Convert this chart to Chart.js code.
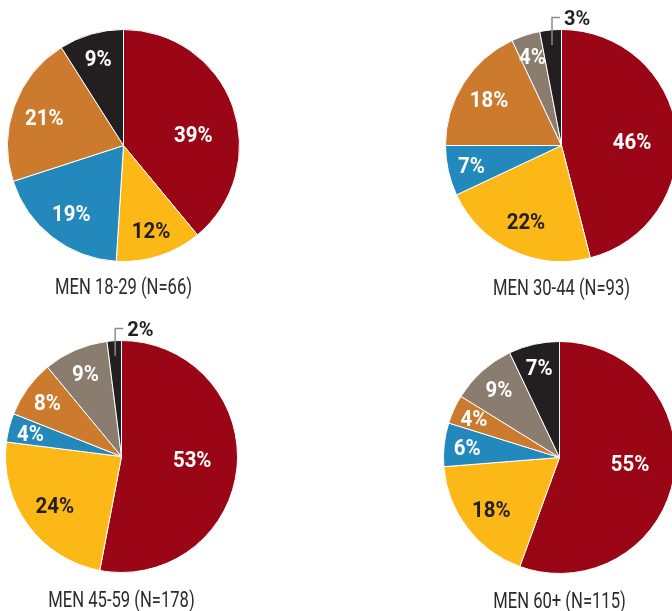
<!DOCTYPE html>
<html>
<head>
<meta charset="utf-8">
<script src="https://cdn.jsdelivr.net/npm/chart.js@4.4.1/dist/chart.umd.min.js"></script>
<style>
  html, body { margin: 0; padding: 0; width: 672px; height: 611px; overflow: hidden; background: #fff; }
  .pie { position: absolute; }
</style>
</head>
<body>
<div class="pie" id="wrap0"><canvas id="pie0"></canvas></div>
<div class="pie" id="wrap1"><canvas id="pie1"></canvas></div>
<div class="pie" id="wrap2"><canvas id="pie2"></canvas></div>
<div class="pie" id="wrap3"><canvas id="pie3"></canvas></div>
<script>
// Answer categories, in clockwise order from 12 o'clock
const segments = ['Answer A', 'Answer B', 'Answer C', 'Answer D', 'Answer E', 'Answer F'];
const segmentColors = ['#9B0616', '#FBB817', '#2389BC', '#CB7A2E', '#8A7D6F', '#231F20'];
const labelColors = ['#FFFFFF', '#231F20', '#FFFFFF', '#FFFFFF', '#FFFFFF', '#FFFFFF'];

// Shares (%) per age group
const men18to29 = [39, 12, 19, 21, 0, 9];
const men30to44 = [46, 22, 7, 18, 4, 3];
const men45to59 = [53, 24, 4, 8, 9, 2];
const men60plus = [55, 18, 6, 4, 9, 7];

const groupTitles = ['MEN 18-29 (N=66)', 'MEN 30-44 (N=93)', 'MEN 45-59 (N=178)', 'MEN 60+ (N=115)'];
const groupValues = [men18to29, men30to44, men45to59, men60plus];

// Pie centres on the page and caption baseline drop below the pie
const placements = [
  { cx: 123.5, cy: 145.5, captionDrop: 32 },
  { cx: 561.7, cy: 145.7, captionDrop: 33 },
  { cx: 121.0, cy: 456.5, captionDrop: 34.5 },
  { cx: 559.5, cy: 457.5, captionDrop: 34 }
];

const PIE_BOX = 233;       // chart area side -> radius 116
const PAD_TOP = 32;        // room for the elbow call-outs above the pie
const PAD_BOTTOM = 42;     // room for the caption
const FONT = 'Roboto, "DejaVu Sans Condensed", sans-serif';
const CAP = 0.711;         // cap height / em

// Draw text squeezed horizontally, baseline placed so caps centre on y
function condensedText(ctx, text, x, y, size, scaleX, align) {
  ctx.save();
  ctx.translate(x, y + size * CAP / 2);
  ctx.scale(scaleX, 1);
  ctx.textAlign = align;
  ctx.textBaseline = 'alphabetic';
  ctx.fillText(text, 0, 0);
  ctx.restore();
}

// Percent labels: inside the slice, or outside with an elbow leader for slivers
const sliceLabels = {
  id: 'sliceLabels',
  afterDatasetsDraw(chart) {
    const ctx = chart.ctx;
    const meta = chart.getDatasetMeta(0);
    const values = chart.data.datasets[0].data;
    const total = values.reduce((a, b) => a + b, 0);
    ctx.save();
    meta.data.forEach((arc, i) => {
      const v = values[i];
      if (!v) return;
      const { x, y, startAngle, endAngle, outerRadius } =
        arc.getProps(['x', 'y', 'startAngle', 'endAngle', 'outerRadius'], true);
      const r = outerRadius;
      let mid = (startAngle + endAngle) / 2;
      const share = v / total;
      const text = v + '%';
      if (share < 0.035) {
        const sx = x + Math.cos(mid) * r * 0.87;
        const sy = y + Math.sin(mid) * r * 0.87;
        const topY = y - r - 12;
        ctx.strokeStyle = '#8C8C8C';
        ctx.lineWidth = 1.5;
        ctx.lineJoin = 'miter';
        ctx.beginPath();
        ctx.moveTo(sx, sy);
        ctx.lineTo(sx, topY);
        ctx.lineTo(sx + 8, topY);
        ctx.stroke();
        ctx.font = 'bold 20px ' + FONT;
        ctx.fillStyle = '#231F20';
        condensedText(ctx, text, sx + 12, topY, 20, 1, 'left');
      } else {
        let f;
        if (share > 0.35) {
          // big slices: keep the label near the 3 o'clock line
          mid = mid * 0.45;
          f = 0.61;
        } else {
          f = 0.83 - 0.5 * share;
        }
        ctx.font = 'bold 22px ' + FONT;
        ctx.fillStyle = labelColors[i];
        condensedText(ctx, text, x + Math.cos(mid) * r * f, y + Math.sin(mid) * r * f, 22, 0.93, 'center');
      }
    });
    ctx.restore();
  }
};

// Caption under each pie
const pieCaption = {
  id: 'pieCaption',
  afterDraw(chart, args, opts) {
    const ctx = chart.ctx;
    const area = chart.chartArea;
    const r = (Math.min(area.right - area.left, area.bottom - area.top) - 1) / 2;
    const cx = (area.left + area.right) / 2;
    const cy = (area.top + area.bottom) / 2;
    ctx.save();
    ctx.font = '22px ' + FONT;
    ctx.fillStyle = '#2B2B2B';
    ctx.textAlign = 'center';
    ctx.textBaseline = 'alphabetic';
    ctx.translate(cx, cy + r + opts.drop);
    ctx.scale(0.755, 1);
    ctx.fillText(opts.text, 0, 0);
    ctx.restore();
  }
};

groupValues.forEach((values, k) => {
  const p = placements[k];
  const wrap = document.getElementById('wrap' + k);
  wrap.style.left = (p.cx - PIE_BOX / 2) + 'px';
  wrap.style.top = (p.cy - PIE_BOX / 2 - PAD_TOP) + 'px';
  wrap.style.width = PIE_BOX + 'px';
  wrap.style.height = (PAD_TOP + PIE_BOX + PAD_BOTTOM) + 'px';

  new Chart(document.getElementById('pie' + k), {
    type: 'pie',
    data: {
      labels: segments,
      datasets: [{
        data: values,
        backgroundColor: segmentColors,
        borderColor: '#FFFFFF',
        borderWidth: 1,
        hoverOffset: 0
      }]
    },
    options: {
      responsive: true,
      maintainAspectRatio: false,
      animation: false,
      events: [],
      layout: { padding: { top: PAD_TOP, bottom: PAD_BOTTOM, left: 0, right: 0 } },
      plugins: {
        legend: { display: false },
        tooltip: { enabled: false },
        title: { display: false },
        pieCaption: { text: groupTitles[k], drop: p.captionDrop }
      }
    },
    plugins: [sliceLabels, pieCaption]
  });
});
</script>
</body>
</html>
